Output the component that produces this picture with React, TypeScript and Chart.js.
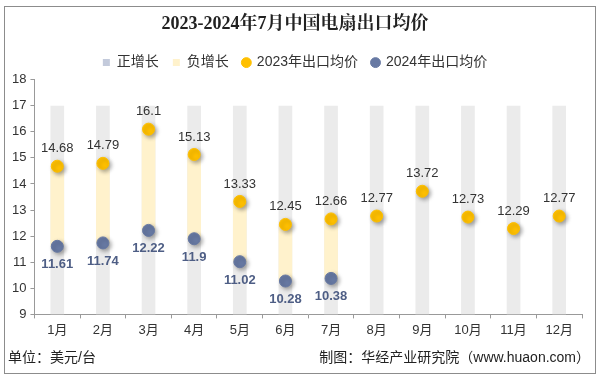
import React, { useEffect, useRef } from "react";
import { Chart, registerables } from "chart.js";

Chart.register(...registerables);

const months = ["1月", "2月", "3月", "4月", "5月", "6月", "7月", "8月", "9月", "10月", "11月", "12月"];
const price2023 = [14.68, 14.79, 16.1, 15.13, 13.33, 12.45, 12.66, 12.77, 13.72, 12.73, 12.29, 12.77];
const price2024 = [11.61, 11.74, 12.22, 11.9, 11.02, 10.28, 10.38, null, null, null, null, null];
const bgLow = 9;
const bgHigh = 17;

const FONT = "'Liberation Sans', Arial, 'Noto Sans CJK SC', sans-serif";
const TITLE_FONT = "'Liberation Serif', 'Noto Serif CJK SC', 'Noto Sans CJK SC', serif";

const posBars = months.map((_, i) => {
  const b = price2024[i];
  const a = price2023[i];
  return b != null && b >= a ? [a, b] : null;
});
const negBars = months.map((_, i) => {
  const b = price2024[i];
  const a = price2023[i];
  return b != null && b < a ? [b, a] : null;
});
const bgBars = months.map(() => [bgLow, bgHigh]);

const extrasPlugin = {
  id: "extras",
  beforeDatasetDraw(chart: any, args: any) {
    const ds = chart.data.datasets[args.index];
    if (ds.type === "line") {
      const ctx = chart.ctx;
      ctx.save();
      ctx.shadowColor = "rgba(0,0,0,0.35)";
      ctx.shadowBlur = 4;
      ctx.shadowOffsetX = 2;
      ctx.shadowOffsetY = 2;
    }
  },
  afterDatasetDraw(chart: any, args: any) {
    const ds = chart.data.datasets[args.index];
    if (ds.type === "line") chart.ctx.restore();
  },
  afterDraw(chart: any) {
    const ctx = chart.ctx;
    ctx.save();
    chart.data.datasets.forEach((ds: any, di: number) => {
      if (ds.type !== "line") return;
      const meta = chart.getDatasetMeta(di);
      meta.data.forEach((pt: any, i: number) => {
        const v = ds.data[i];
        if (v == null) return;
        ctx.textAlign = "center";
        if (ds.label === "2023年出口均价") {
          ctx.font = `13px ${FONT}`;
          ctx.fillStyle = "#333333";
          ctx.textBaseline = "bottom";
          ctx.fillText(String(v), pt.x, pt.y - 11);
        } else {
          ctx.font = `bold 13px ${FONT}`;
          ctx.fillStyle = "#4E5E85";
          ctx.textBaseline = "top";
          ctx.fillText(String(v), pt.x, pt.y + 12);
        }
      });
    });
    ctx.font = `14px ${FONT}`;
    ctx.fillStyle = "#222222";
    ctx.textBaseline = "middle";
    ctx.textAlign = "left";
    ctx.fillText("单位：美元/台", 8, 358);
    ctx.textAlign = "right";
    ctx.fillText("制图：华经产业研究院（www.huaon.com）", 590, 358);
    ctx.strokeStyle = "#8c8c8c";
    ctx.lineWidth = 1;
    ctx.strokeRect(4.5, 6.5, 591, 367);
    ctx.restore();
  },
};

export default function App() {
  const ref = useRef<HTMLCanvasElement>(null);
  useEffect(() => {
    if (!ref.current) return;
    const chart = new Chart(ref.current, {
      type: "bar",
      data: {
        labels: months,
        datasets: [
          {
            type: "bar",
            label: "正增长",
            data: posBars as any,
            backgroundColor: "#C3CADB",
            grouped: false,
            barPercentage: 0.3,
            categoryPercentage: 1,
            pointStyle: "rect",
            order: 3,
          } as any,
          {
            type: "bar",
            label: "负增长",
            data: negBars as any,
            backgroundColor: "#FFF2CC",
            grouped: false,
            barPercentage: 0.3,
            categoryPercentage: 1,
            pointStyle: "rect",
            order: 3,
          } as any,
          {
            type: "line",
            label: "2023年出口均价",
            data: price2023,
            showLine: false,
            pointRadius: 6,
            pointHoverRadius: 6,
            pointBackgroundColor: "#FFC000",
            pointBorderColor: "#FFC000",
            backgroundColor: "#FFC000",
            borderColor: "#FFC000",
            pointStyle: "circle",
            order: 2,
          } as any,
          {
            type: "line",
            label: "2024年出口均价",
            data: price2024,
            showLine: false,
            pointRadius: 6,
            pointHoverRadius: 6,
            pointBackgroundColor: "#6779A3",
            pointBorderColor: "#6779A3",
            backgroundColor: "#6779A3",
            borderColor: "#6779A3",
            pointStyle: "circle",
            order: 1,
          } as any,
          {
            type: "bar",
            label: "bg",
            data: bgBars as any,
            backgroundColor: "#EBEBEB",
            grouped: false,
            barPercentage: 0.3,
            categoryPercentage: 1,
            order: 5,
          } as any,
        ],
      },
      options: {
        animation: false,
        responsive: false,
        maintainAspectRatio: false,
        layout: { padding: { left: 8, right: 18, top: 4, bottom: 38 } },
        plugins: {
          tooltip: { enabled: false },
          title: {
            display: true,
            text: "2023-2024年7月中国电扇出口均价",
            font: { family: TITLE_FONT, size: 18, weight: "bold" },
            color: "#222222",
            padding: { top: 10, bottom: 6 },
          },
          legend: {
            display: true,
            labels: {
              usePointStyle: true,
              boxWidth: 7,
              boxHeight: 7,
              padding: 14,
              font: { family: FONT, size: 14 },
              color: "#333333",
              filter: (item: any) => item.text !== "bg",
              sort: (a: any, b: any) => a.datasetIndex - b.datasetIndex,
            },
          },
        },
        scales: {
          x: {
            offset: true,
            grid: {
              display: true,
              drawOnChartArea: false,
              drawTicks: true,
              tickLength: 4,
              color: "#999999",
              offset: true,
            },
            border: { display: true, color: "#999999" },
            ticks: { font: { family: FONT, size: 13 }, color: "#333333", padding: 4 },
          },
          y: {
            min: 9,
            max: 18,
            ticks: { stepSize: 1, font: { family: FONT, size: 13 }, color: "#333333", padding: 4 },
            grid: {
              display: true,
              drawOnChartArea: false,
              drawTicks: true,
              tickLength: 4,
              color: "#999999",
            },
            border: { display: true, color: "#999999" },
          },
        },
      },
      plugins: [extrasPlugin],
    });
    return () => chart.destroy();
  }, []);
  return (
    <div style={{ position: "fixed", left: 0, top: 0, width: 600, height: 380, background: "#ffffff" }}>
      <canvas ref={ref} width={600} height={380} style={{ width: 600, height: 380 }} />
    </div>
  );
}
